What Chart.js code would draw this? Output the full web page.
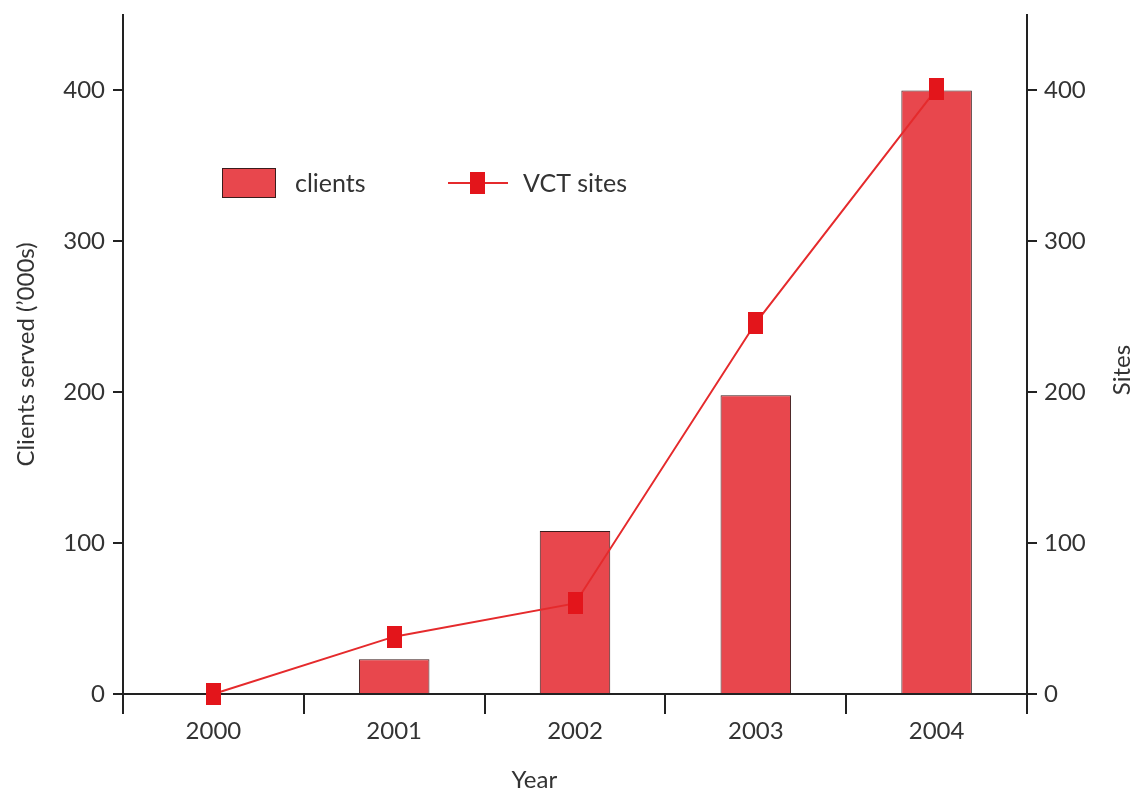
<!DOCTYPE html>
<html>
<head>
<meta charset="utf-8">
<script src="https://cdn.jsdelivr.net/npm/chart.js@4/dist/chart.umd.min.js"></script>
<style>
html,body{margin:0;padding:0;background:#fff;}
#wrap{width:1134px;height:791px;position:relative;}
</style>
</head>
<body>
<div id="wrap"><canvas id="c" width="1134" height="791"></canvas></div>
<script>
const years = ['2000', '2001', '2002', '2003', '2004'];
const clients = [0, 23, 108, 198, 400];
const vctSites = [0, 38, 60, 246, 401];
const yTickValues = [0, 100, 200, 300, 400];

const FONT = 'Lato, "Open Sans", sans-serif';
const TEXT = '#333333';
const BAR_FILL = '#e8474d';
const BAR_EDGE = '#3a1c1c';
const LINE_COL = '#e52a2c';
const MARK_COL = '#e3151b';

// tall rectangular marker
const marker = document.createElement('canvas');
marker.width = 15; marker.height = 22;
(function(){ const g = marker.getContext('2d'); g.fillStyle = MARK_COL; g.fillRect(0,0,15,22); })();

const legendPlugin = {
  id: 'customLegend',
  afterDraw(chart) {
    const ctx = chart.ctx;
    const a = chart.chartArea;
    const x0 = a.left + 99, y0 = 168;
    ctx.save();
    ctx.fillStyle = BAR_FILL;
    ctx.fillRect(x0, y0, 54, 30);
    ctx.strokeStyle = BAR_EDGE;
    ctx.lineWidth = 1;
    ctx.strokeRect(x0 + 0.5, y0 + 0.5, 53, 29);
    ctx.fillStyle = TEXT;
    ctx.font = '25px ' + FONT;
    ctx.textBaseline = 'middle';
    ctx.textAlign = 'left';
    ctx.fillText(chart.data.datasets[0].label, x0 + 73, y0 + 16);
    const lx = x0 + 226;
    ctx.strokeStyle = LINE_COL;
    ctx.lineWidth = 2;
    ctx.beginPath(); ctx.moveTo(lx, y0 + 15); ctx.lineTo(lx + 60, y0 + 15); ctx.stroke();
    ctx.drawImage(marker, lx + 22, y0 + 4);
    ctx.fillStyle = TEXT;
    ctx.fillText(chart.data.datasets[1].label, lx + 75, y0 + 16);
    // axis titles placed like the reference
    ctx.font = '24px ' + FONT;
    ctx.textAlign = 'center';
    ctx.fillText('Year', a.left + (a.right - a.left) * 0.455, 780);
    ctx.translate(1122, 370);
    ctx.rotate(-Math.PI / 2);
    ctx.fillText('Sites', 0, 0);
    ctx.restore();
  }
};

const keepTicks = axis => { axis.ticks = axis.ticks.filter(t => yTickValues.includes(t.value)); };

new Chart(document.getElementById('c'), {
  data: {
    labels: years,
    datasets: [
      {
        type: 'bar', label: 'clients', data: clients, yAxisID: 'y',
        backgroundColor: BAR_FILL, borderColor: BAR_EDGE, borderWidth: 1,
        categoryPercentage: 1.0, barPercentage: 0.39, order: 2
      },
      {
        type: 'line', label: 'VCT sites', data: vctSites, yAxisID: 'y1',
        borderColor: LINE_COL, borderWidth: 2, pointStyle: marker,
        pointRadius: 10, pointHoverRadius: 10, tension: 0, order: 1, clip: false
      }
    ]
  },
  options: {
    responsive: false,
    animation: false,
    events: [],
    layout: { padding: { top: 15, left: 0, right: 0, bottom: 0 } },
    plugins: { legend: { display: false }, tooltip: { enabled: false } },
    scales: {
      x: {
        type: 'category',
        offset: true,
        grid: { offset: true, drawOnChartArea: false, drawTicks: true, tickLength: 20, color: '#222', lineWidth: 2 },
        border: { display: true, color: '#222', width: 2 },
        ticks: { color: TEXT, font: { family: FONT, size: 24 }, padding: 3, maxRotation: 0 },
        afterFit: s => { s.height = 97; s.paddingLeft = 0; s.paddingRight = 0; }
      },
      y: {
        position: 'left', min: 0, max: 450,
        grid: { drawOnChartArea: false, tickLength: 10, color: '#222', lineWidth: 2 },
        border: { display: true, color: '#222', width: 2 },
        ticks: { stepSize: 100, color: TEXT, font: { family: FONT, size: 24 }, padding: 8 },
        afterBuildTicks: keepTicks,
        title: { display: true, text: 'Clients served (’000s)', color: TEXT, font: { family: FONT, size: 24 }, padding: { top: 12, bottom: 0 } },
        afterFit: s => { s.width = 123; s.paddingTop = 0; s.paddingBottom = 0; }
      },
      y1: {
        position: 'right', min: 0, max: 450,
        grid: { drawOnChartArea: false, tickLength: 10, color: '#222', lineWidth: 2 },
        border: { display: true, color: '#222', width: 2 },
        ticks: { stepSize: 100, color: TEXT, font: { family: FONT, size: 24 }, padding: 7 },
        afterBuildTicks: keepTicks,
        afterFit: s => { s.width = 107; s.paddingTop = 0; s.paddingBottom = 0; }
      }
    }
  },
  plugins: [legendPlugin]
});
</script>
</body>
</html>
